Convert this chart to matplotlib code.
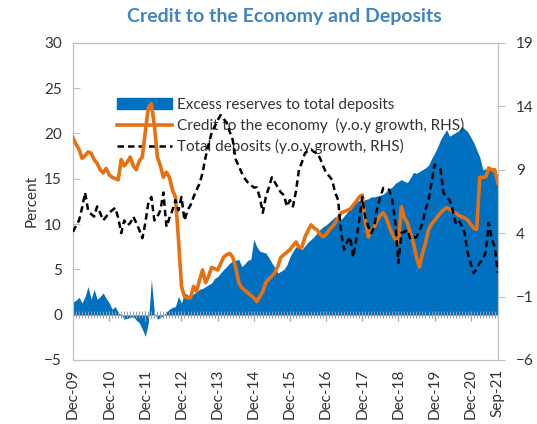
import numpy as np
import matplotlib
matplotlib.use("Agg")
import matplotlib.pyplot as plt
from matplotlib.patches import Patch
from matplotlib.lines import Line2D

plt.rcParams['font.family'] = ['Lato', 'DejaVu Sans']

# Monthly data, Dec-2009 .. Sep-2021 (142 months)
# Excess reserves to total deposits (percent, LHS)
excess_reserves = [
    1.4, 1.6, 1.9, 1.3, 2.0, 3.1, 1.7, 2.8, 1.7, 2.0, 2.4, 1.8,
    1.3, 0.6, 0.9, 0.2, 0.0, -0.5, -0.4, -0.3, -0.2, -0.6, -0.9, -1.6,
    -2.4, -0.9, 3.9, 0.2, -0.5, -0.3, -0.1, 0.3, 0.6, 0.8, 0.9, 2.0,
    1.3, 2.4, 2.2, 2.0, 2.3, 2.5, 2.8, 2.9, 3.1, 3.3, 3.5, 4.0,
    4.2, 4.6, 5.0, 5.3, 5.7, 5.9, 6.0, 6.1, 5.3, 5.6, 6.0, 6.1,
    8.3, 7.5, 7.0, 6.9, 6.8, 6.3, 5.7, 5.2, 4.6, 4.8, 5.0, 5.5,
    6.4, 7.0, 7.5, 7.4, 7.2, 7.6, 8.0, 8.3, 8.6, 9.05, 9.4, 9.7,
    9.9, 10.2, 10.5, 10.8, 10.7, 10.5, 10.9, 11.3, 11.9, 12.4, 12.5, 12.6,
    12.5, 12.7, 12.8, 13.0, 13.0, 13.1, 13.2, 13.3, 13.6, 13.9, 14.1, 14.5,
    14.7, 14.9, 14.7, 14.6, 15.1, 15.7, 15.6, 15.8, 16.0, 16.2, 16.5, 17.2,
    17.8, 18.5, 19.3, 19.9, 20.4, 19.7, 19.9, 20.1, 20.3, 20.8, 20.5, 20.2,
    19.6, 19.0, 18.2, 17.4, 16.0, 16.1, 16.0, 15.9, 15.7, 14.6,
]

# Credit to the economy, y.o.y growth (RHS)
credit_growth = [
    11.5, 11.0, 10.6, 9.9, 10.1, 10.4, 10.3, 9.8, 9.5, 9.0, 8.75, 9.1,
    8.6, 8.4, 8.3, 8.2, 9.8, 9.3, 9.6, 10.0, 9.3, 9.0, 9.7, 10.0,
    12.0, 13.9, 14.2, 12.5, 10.0, 9.3, 8.4, 8.8, 8.4, 7.4, 6.85, 3.5,
    -0.2, -1.0, -1.1, -1.1, -0.2, -0.6, 0.3, 1.1, 0.1, 0.6, 1.3, 1.2,
    1.1, 1.6, 2.1, 2.3, 2.4, 2.1, 1.3, 0.1, -0.3, -0.5, -0.7, -0.9,
    -1.1, -1.4, -1.0, -0.6, 0.1, 0.4, 0.6, 0.9, 1.4, 2.1, 2.3, 2.5,
    2.7, 3.0, 3.3, 2.9, 2.9, 3.7, 4.2, 4.65, 4.4, 4.25, 3.9, 3.7,
    3.9, 4.25, 4.5, 4.8, 5.2, 5.6, 5.7, 5.8, 5.9, 6.2, 6.5, 6.85,
    7.0, 5.0, 3.7, 4.2, 4.5, 5.0, 5.4, 5.6, 5.2, 4.5, 3.9, 3.5,
    3.2, 6.07, 5.2, 4.8, 4.0, 3.2, 2.1, 1.33, 2.4, 3.2, 4.25, 4.7,
    5.0, 5.3, 5.6, 5.83, 6.0, 5.9, 5.7, 5.6, 5.4, 5.3, 5.2, 5.04,
    4.7, 4.4, 4.3, 8.4, 8.4, 8.43, 9.14, 9.0, 9.0, 7.96,
]

# Total deposits, y.o.y growth (RHS)
deposit_growth = [
    4.1, 4.6, 5.0, 6.0, 7.2, 5.8, 5.5, 5.3, 6.1, 5.6, 5.0, 5.3,
    5.6, 5.8, 6.0, 5.2, 4.0, 5.0, 4.6, 4.8, 5.3, 4.8, 4.25, 3.6,
    4.8, 6.4, 6.85, 5.0, 5.3, 5.8, 7.2, 4.5, 5.2, 5.8, 6.6, 5.8,
    6.85, 5.0, 5.8, 6.2, 6.85, 7.4, 7.9, 8.75, 10.0, 11.0, 11.9, 12.4,
    12.9, 13.3, 13.0, 12.7, 12.0, 11.35, 9.8, 9.3, 8.75, 8.3, 8.0, 7.8,
    7.6, 7.6, 6.8, 5.6, 6.85, 7.6, 8.4, 8.0, 7.6, 7.2, 7.0, 6.1,
    6.6, 6.1, 7.3, 9.0, 9.6, 10.3, 10.5, 10.6, 10.4, 10.3, 9.9, 9.3,
    8.75, 8.5, 8.2, 7.2, 6.6, 4.0, 2.7, 3.3, 3.7, 2.1, 3.5, 5.0,
    6.85, 5.3, 4.5, 4.0, 4.5, 6.0, 6.85, 7.56, 7.5, 7.4, 6.6, 4.8,
    1.65, 4.0, 4.1, 4.25, 3.5, 3.6, 3.7, 4.2, 4.8, 5.83, 6.6, 7.96,
    9.4, 9.2, 9.0, 7.17, 6.8, 6.6, 5.83, 4.8, 5.04, 4.6, 4.0, 2.44,
    1.6, 0.86, 1.2, 1.65, 1.9, 2.5, 4.8, 3.5, 2.9, 0.86,
]

tick_labels = ["Dec-09", "Dec-10", "Dec-11", "Dec-12", "Dec-13", "Dec-14",
               "Dec-15", "Dec-16", "Dec-17", "Dec-18", "Dec-19", "Dec-20", "Sep-21"]
tick_months = [0, 12, 24, 36, 48, 60, 72, 84, 96, 108, 120, 132, 141]

months = np.arange(len(excess_reserves))

blue = "#0070C0"
orange = "#E8700E"
grey = "#BFBFBF"
comb = "#A0A0A0"
txt = "#333333"

fig = plt.figure(figsize=(5.37, 4.24), dpi=100)
ax = fig.add_axes([0.136, 0.151, 0.791, 0.748])

ax.fill_between(months, 0, excess_reserves, color=blue, linewidth=0, zorder=1)

# zero axis with monthly tick comb
ax.axhline(0, color=comb, lw=0.8, zorder=2)
ax.vlines(months, -0.35, 0.35, color=comb, lw=0.7, zorder=2)
ax.vlines(tick_months, -0.75, 0.35, color=comb, lw=0.9, zorder=2)

ax.set_xlim(0, 141)
ax.set_ylim(-5, 30)
ax.set_yticks(range(-5, 31, 5))
ax.set_xticks(tick_months)
ax.set_xticklabels(tick_labels, rotation=90)
ax.tick_params(axis='x', length=0, pad=6, labelsize=11, labelcolor=txt)
ax.tick_params(axis='y', direction='in', length=5, color=grey, labelsize=11,
               labelcolor=txt, pad=8)
ax.set_ylabel("Percent", fontsize=11, color=txt, labelpad=4)
for s in ax.spines.values():
    s.set_color(grey)

ax2 = ax.twinx()
ax2.plot(months, credit_growth, color=orange, lw=2.6, zorder=3)
ax2.plot(months, deposit_growth, color="black", lw=1.8, dashes=(2.6, 1.6), zorder=4)
ax2.set_ylim(-6, 19)
ax2.set_yticks([-6, -1, 4, 9, 14, 19])
ax2.tick_params(axis='y', direction='out', length=5, color=grey, labelsize=11,
                labelcolor=txt, pad=8)
for s in ax2.spines.values():
    s.set_color(grey)

handles = [
    Patch(facecolor=blue, edgecolor=blue),
    Line2D([], [], color=orange, lw=2.6),
    Line2D([], [], color="black", lw=1.8, dashes=(2.6, 1.6)),
]
labels = ["Excess reserves to total deposits",
          "Credit to the economy  (y.o.y growth, RHS)",
          "Total deposits (y.o.y growth, RHS)"]
ax.legend(handles, labels, loc="upper left", bbox_to_anchor=(0.09, 0.845),
          frameon=False, fontsize=11, handlelength=3.6, handleheight=0.7,
          handletextpad=0.3, labelspacing=0.4, borderaxespad=0,
          labelcolor=txt)

fig.text(0.53, 0.962, "Credit to the Economy and Deposits", ha="center", va="center",
         fontsize=14, fontweight="bold", color="#3F85C2")

fig.savefig("out.png", dpi=100)
